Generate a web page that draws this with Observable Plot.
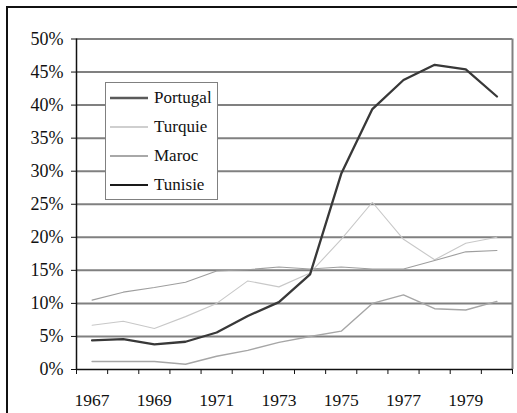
<!DOCTYPE html>
<html>
<head>
<meta charset="utf-8">
<script src="https://cdn.jsdelivr.net/npm/d3@7"></script>
<script src="https://cdn.jsdelivr.net/npm/@observablehq/plot@0.6"></script>
<style>
  html, body { margin: 0; padding: 0; background: #fff; overflow: hidden; }
  #wrap { position: relative; width: 517px; height: 413px; overflow: hidden; }
  #frame { position: absolute; left: 6px; top: 6px; width: 700px; height: 700px; border: 2px solid #111; pointer-events: none; box-sizing: border-box; }
  #chart { position: absolute; left: 0; top: 0; }
  #chart svg, #chart svg text { font-family: 'Liberation Serif', 'DejaVu Serif', 'Noto Serif', Tinos, FreeSerif, 'Nimbus Roman', 'Nimbus Roman No9 L', 'Times New Roman', Times, serif !important; }
  #legend { position: absolute; left: 105px; top: 82px; width: 111px; height: 116px; border: 1.5px solid #808080; background: #fff;
            font-family: 'Liberation Serif', 'DejaVu Serif', 'Noto Serif', Tinos, FreeSerif, 'Nimbus Roman', 'Nimbus Roman No9 L', 'Times New Roman', Times, serif; font-size: 17px; color: #111; box-sizing: content-box; }
  .row { position: absolute; left: 4px; height: 20px; display: flex; align-items: center; white-space: nowrap; }
  .row svg { margin-right: 6px; flex: none; }
</style>
</head>
<body>
<div id="wrap">
  <div id="chart"></div>
  <div id="legend"></div>
  <div id="frame"></div>
</div>
<script>
const years = [1967, 1968, 1969, 1970, 1971, 1972, 1973, 1974, 1975, 1976, 1977, 1978, 1979, 1980];
const portugal = [4.4, 4.6, 3.8, 4.2, 5.6, 8.1, 10.2, 14.4, 29.6, 39.4, 43.8, 46.1, 45.4, 41.3];
const turquie  = [6.7, 7.3, 6.2, 8.0, 10.0, 13.4, 12.5, 14.6, 19.7, 25.3, 19.7, 16.6, 19.1, 20.0];
const maroc    = [1.2, 1.2, 1.2, 0.8, 2.0, 2.9, 4.1, 5.0, 5.8, 10.0, 11.3, 9.2, 9.0, 10.3];
const tunisie  = [10.5, 11.7, 12.4, 13.2, 14.9, 15.1, 15.5, 15.2, 15.5, 15.2, 15.2, 16.5, 17.8, 18.0];
const yTicks = [0, 5, 10, 15, 20, 25, 30, 35, 40, 45, 50];
const xLabelYears = [1967, 1969, 1971, 1973, 1975, 1977, 1979];
const seriesNames = ["Portugal", "Turquie", "Maroc", "Tunisie"];

const series = [
  {name: "Portugal", values: portugal, stroke: "#383838", width: 2.3, legendStroke: "#5a5a5a", legendWidth: 2.5},
  {name: "Turquie",  values: turquie,  stroke: "#c8c8c8", width: 1.1, legendStroke: "#cfcfcf", legendWidth: 2},
  {name: "Maroc",    values: maroc,    stroke: "#a6a6a6", width: 1.4, legendStroke: "#a8a8a8", legendWidth: 2},
  {name: "Tunisie",  values: tunisie,  stroke: "#9e9e9e", width: 1.1, legendStroke: "#1a1a1a", legendWidth: 2}
];

const boundaries = years.map(y => y - 0.5).concat([years[years.length - 1] + 0.5]);
const xMin = boundaries[0], xMax = boundaries[boundaries.length - 1];

const marks = [
  Plot.ruleY(yTicks.filter(d => d > 0), {y: d => d, stroke: "#808080", strokeWidth: 2}),
  Plot.ruleX([xMax], {x: d => d, stroke: "#808080", strokeWidth: 2})
];
for (const s of [series[1], series[3], series[2], series[0]]) {
  marks.push(Plot.line(years.map((y, i) => ({year: y, v: s.values[i]})), {
    x: "year", y: "v", stroke: s.stroke, strokeWidth: s.width, strokeLinejoin: "miter"
  }));
}
marks.push(
  Plot.ruleX([xMin], {x: d => d, stroke: "#111", strokeWidth: 1.5}),
  Plot.ruleY([0], {y: d => d, stroke: "#111", strokeWidth: 1.5}),
  Plot.axisY(yTicks, {tickSize: 5, tickPadding: 8, tickFormat: d => d + "%", stroke: "#111", fontSize: 18, fill: "#111"}),
  Plot.axisX(boundaries, {tickSize: 5, tickFormat: () => "", stroke: "#111"}),
  Plot.axisX(xLabelYears, {tickSize: 0, tickPadding: 24, tickFormat: d => String(d), fontSize: 17.5, fill: "#111"})
);

const chart = Plot.plot({
  width: 517,
  height: 413,
  marginLeft: 76,
  marginRight: 5,
  marginTop: 38.5,
  marginBottom: 44,
  style: {fontFamily: "'Liberation Serif', 'DejaVu Serif', serif", background: "transparent", overflow: "visible"},
  x: {type: "linear", domain: [xMin, xMax], label: null},
  y: {type: "linear", domain: [0, 50], label: null},
  marks
});
document.getElementById("chart").appendChild(chart);

const legend = document.getElementById("legend");
series.forEach((s, i) => {
  const row = document.createElement("div");
  row.className = "row";
  row.style.top = (5 + i * 29) + "px";
  row.innerHTML = `<svg width="38" height="6"><line x1="0" x2="38" y1="3" y2="3" stroke="${s.legendStroke}" stroke-width="${s.legendWidth}"/></svg><span>${seriesNames[i]}</span>`;
  legend.appendChild(row);
});
</script>
</body>
</html>
